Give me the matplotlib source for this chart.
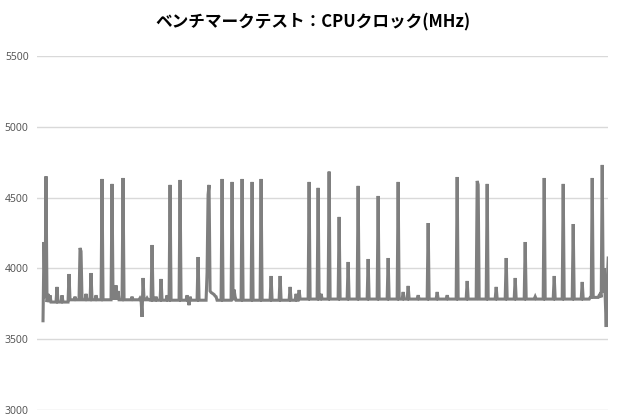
import numpy as np
import matplotlib
matplotlib.use("Agg")
import matplotlib.pyplot as plt

plt.rcParams['font.family'] = ['Noto Sans CJK JP', 'DejaVu Sans']

title = "ベンチマークテスト：CPUクロック(MHz)"
y_ticks = [3000, 3500, 4000, 4500, 5000, 5500]

# number of samples
n_samples = 566

# baseline clock level per segment (start index, MHz)
base_start = [0, 27, 107, 257, 547]
base_mhz = [3762, 3778, 3775, 3783, 3795]

# sample index of each spike / deviation and its value (MHz)
spike_idx = [0, 1, 2, 3, 5, 7, 14, 19, 26, 32, 37, 38, 43, 48, 53, 59, 69, 71, 73,
             75, 80, 89, 97, 99, 100, 104, 109, 113, 118, 124, 127, 137, 144, 146,
             147, 155, 164, 165, 166, 167, 168, 169, 170, 171, 172, 173, 179, 189,
             191, 192, 199, 209, 218, 228, 237, 247, 253, 256, 266, 275, 278, 286,
             296, 305, 315, 325, 335, 345, 355, 360, 365, 375, 385, 394, 404, 414,
             424, 434, 435, 444, 453, 463, 472, 482, 492, 501, 511, 520, 530, 539,
             549, 556, 557, 559, 560, 561, 562, 563, 564, 565]
spike_mhz = [3630, 4186, 3790, 4650, 3820, 3810, 3869, 3810, 3960, 3800, 4144, 4120,
             3820, 3967, 3810, 4631, 4596, 3870, 3880, 3840, 4638, 3800, 3790, 3657,
             3932, 3790, 4165, 3800, 3925, 3810, 4589, 4624, 3810, 3740, 3800, 4080,
             3970, 4520, 4589, 3840, 3830, 3825, 3820, 3815, 3805, 3800, 4631, 4610,
             3850, 3800, 4631, 4610, 4631, 3946, 3946, 3869, 3820, 3847, 4610, 4568,
             3820, 4683, 4363, 4045, 4582, 4066, 4511, 4073, 4610, 3833, 3876, 3810,
             4320, 3833, 3810, 4645, 3911, 4617, 4590, 4596, 3869, 4073, 3932, 4186,
             3800, 4638, 3946, 4596, 4313, 3904, 4638, 3810, 3820, 4730, 3830, 4000,
             3800, 3586, 3900, 4073]

clock = np.empty(n_samples)
for i, s in enumerate(base_start):
    e = base_start[i + 1] if i + 1 < len(base_start) else n_samples
    clock[s:e] = base_mhz[i]
clock[np.array(spike_idx)] = spike_mhz

fig = plt.figure(figsize=(6.2, 4.2), dpi=100)
ax = fig.add_axes([0.0597, 0.0238, 0.9213, 0.8432])
ax.plot(np.arange(n_samples), clock, color='#7f7f7f', linewidth=2.2,
        solid_joinstyle='miter', zorder=3)

ax.set_ylim(3000, 5500)
ax.set_xlim(-6, 565)
ax.set_yticks(y_ticks)
ax.set_yticklabels([str(v) for v in y_ticks], fontsize=7.5, color='#595959',
                   family=['Noto Sans', 'DejaVu Sans'])
ax.set_xticks([])
ax.tick_params(axis='y', length=0, pad=6)
ax.grid(axis='y', color='#d9d9d9', linewidth=1.0)
ax.set_axisbelow(True)
for sp in ax.spines.values():
    sp.set_visible(False)

fig.text(0.505, 0.947, title, ha='center', va='center', fontsize=12,
         fontweight='bold', color='#000000')

fig.savefig('out.png', dpi=100, facecolor='white')
